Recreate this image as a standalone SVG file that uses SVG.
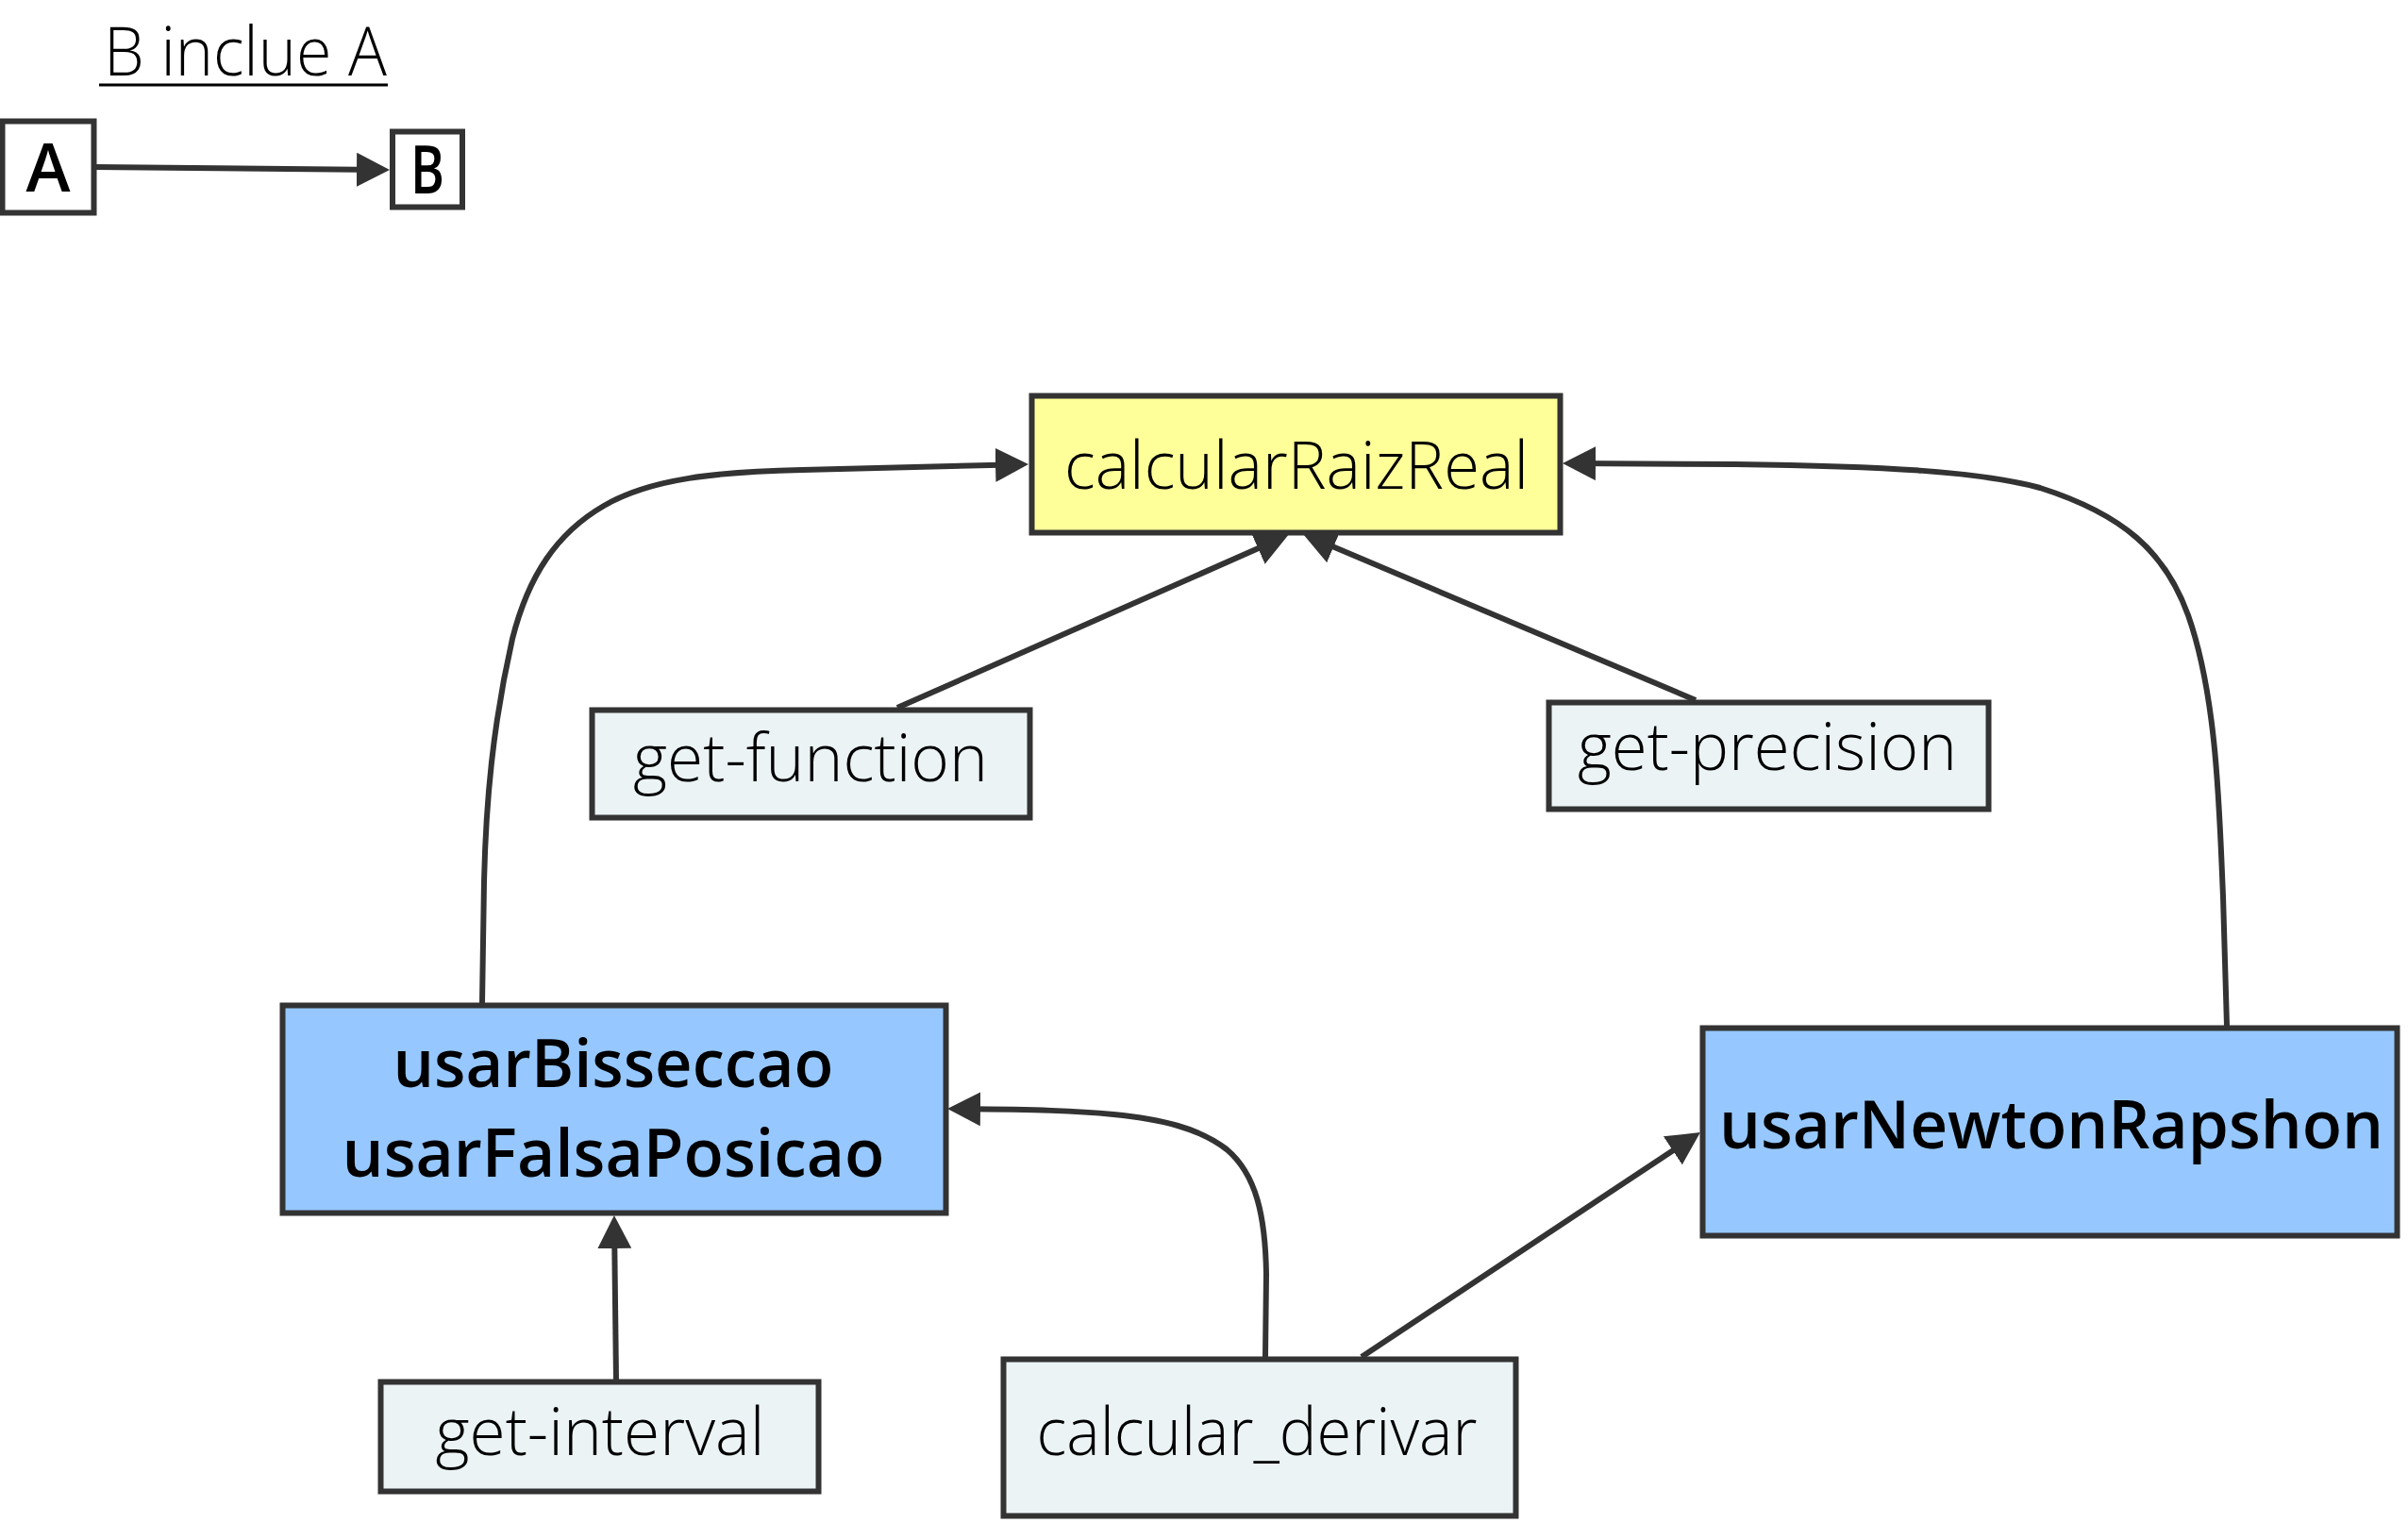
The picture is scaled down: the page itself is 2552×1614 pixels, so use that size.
<svg xmlns="http://www.w3.org/2000/svg" width="2552" height="1614" viewBox="0 0 2552 1614">
<style>
  .box { stroke: #333333; stroke-width: 6; }
  .plain { fill: #EBF3F5; }
  .main { fill: #FFFF99; }
  .algo { fill: #96C8FF; }
  .legend { fill: #FFFFFF; }
  text { font-family: "Open Sans", "Noto Sans", "DejaVu Sans", sans-serif; fill: #000000; text-anchor: middle; }
  .lbl { font-size: 70px; font-weight: 350; }
  .bold { font-size: 70px; font-weight: 550; }
  .key { font-size: 70px; font-weight: 600; }
  .edge { fill: none; stroke: #333333; stroke-width: 6; marker-end: url(#ah); }
</style>
<defs>
  <marker id="ah" markerUnits="userSpaceOnUse" markerWidth="36" markerHeight="36" viewBox="0 0 36 36" refX="27" refY="18" orient="auto">
    <path d="M0,0 L35,18 L0,36 z" fill="#333333"/>
  </marker>
</defs>
<rect width="2552" height="1614" fill="#FFFFFF"/>

<g id="legend">
  <text x="260" y="80" style="font-size:72px; font-weight:350" textLength="300" lengthAdjust="spacingAndGlyphs">B inclue A</text>
  <line x1="105" y1="90" x2="411" y2="90" stroke="#000000" stroke-width="3"/>
  <g id="legend-A">
    <rect class="box legend" x="2.5" y="128.5" width="97" height="97"/>
    <text class="key" x="51" y="203" textLength="47" lengthAdjust="spacingAndGlyphs">A</text>
  </g>
  <g id="legend-B">
    <rect class="box legend" x="416" y="139.5" width="74" height="80"/>
    <text class="key" x="453" y="205" textLength="36" lengthAdjust="spacingAndGlyphs">B</text>
  </g>
  <path class="edge" d="M101,177 L405,180"/>
</g>

<g id="calcularRaizReal">
  <rect class="box main" x="1093.5" y="419.5" width="560" height="145"/>
  <text class="lbl" x="1374" y="518" textLength="492" lengthAdjust="spacingAndGlyphs">calcularRaizReal</text>
</g>

<g id="get-function">
  <rect class="box plain" x="627.5" y="752.5" width="464" height="114"/>
  <text class="lbl" x="859" y="828" textLength="376" lengthAdjust="spacingAndGlyphs">get-function</text>
</g>

<g id="get-precision">
  <rect class="box plain" x="1641.5" y="744.5" width="466" height="113"/>
  <text class="lbl" x="1873" y="816" textLength="402" lengthAdjust="spacingAndGlyphs">get-precision</text>
</g>

<g id="usarBisseccao">
  <rect class="box algo" x="299.5" y="1065.5" width="703" height="220"/>
  <text class="bold" x="650" y="1152" textLength="467" lengthAdjust="spacingAndGlyphs">usarBisseccao</text>
  <text class="bold" x="650" y="1247" textLength="575" lengthAdjust="spacingAndGlyphs">usarFalsaPosicao</text>
</g>

<g id="usarNewtonRapshon">
  <rect class="box algo" x="1804.5" y="1089.5" width="736" height="220"/>
  <text class="bold" x="2174" y="1217" textLength="704" lengthAdjust="spacingAndGlyphs">usarNewtonRapshon</text>
</g>

<g id="get-interval">
  <rect class="box plain" x="403.5" y="1464.5" width="464" height="116"/>
  <text class="lbl" x="636" y="1542" textLength="349" lengthAdjust="spacingAndGlyphs">get-interval</text>
</g>

<g id="calcular_derivar">
  <rect class="box plain" x="1063.5" y="1440.5" width="543" height="166"/>
  <text class="lbl" x="1332" y="1542" textLength="467" lengthAdjust="spacingAndGlyphs">calcular_derivar</text>
</g>

<g id="connectors">
  <path class="edge" d="M951,750 L1358,570.3"/>
  <path class="edge" d="M1797,742 L1388.4,569.1"/>
  <path class="edge" d="M511,1063 L513,934 C515,850 522,770 543,677 C560,610 590,565 640,536 C690,507 760,500 850,498 L1082,492.2"/>
  <path class="edge" d="M2360,1087 L2356,950 C2352,860 2350,740 2319,652 C2295,585 2250,545 2162,517 C2100,500 2000,494 1839,492 L1664,491"/>
  <path class="edge" d="M653,1464 L651,1296"/>
  <path class="edge" d="M1341,1438 L1342,1350 C1341,1290 1332,1245 1300,1218 C1270,1195 1230,1186 1180,1181 C1140,1177 1100,1176 1012,1175"/>
  <path class="edge" d="M1443,1438 L1795.3,1204.4"/>
</g>
</svg>
